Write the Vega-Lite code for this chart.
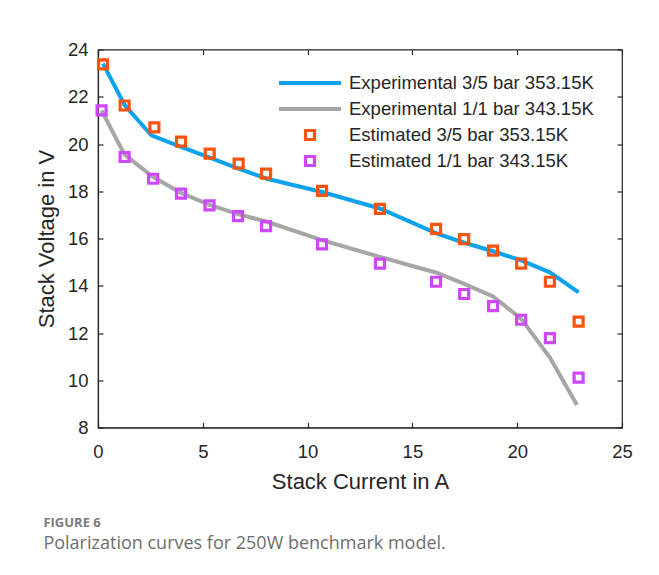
{
  "$schema": "https://vega.github.io/schema/vega-lite/v6.json",
  "width": 524,
  "height": 378,
  "autosize": {"type": "none"},
  "padding": {"left": 98, "top": 49.5, "right": 37, "bottom": 147},
  "background": "white",
  "config": {
    "view": {"stroke": "#262626", "strokeWidth": 1.2},
    "font": "Liberation Sans",
    "axis": {
      "domainColor": "#262626", "tickColor": "#262626", "labelColor": "#262626", "titleColor": "#262626",
      "grid": false, "labelFont": "Liberation Sans", "titleFont": "Liberation Sans",
      "labelFontSize": 18.5, "titleFontSize": 22, "titleFontWeight": "normal",
      "tickSize": -5, "tickWidth": 1.2, "domainWidth": 1.2, "labelFlush": false, "labelOverlap": false
    }
  },
  "title": {
    "text": "FIGURE 6",
    "subtitle": "Polarization curves for 250W benchmark model.",
    "orient": "bottom",
    "anchor": "start",
    "dx": 8,
    "offset": 25,
    "font": "Open Sans",
    "fontSize": 13,
    "fontWeight": "bold",
    "color": "#7a7a7a",
    "subtitleFont": "Open Sans",
    "subtitleFontSize": 18,
    "subtitleColor": "#6e6e6e",
    "subtitlePadding": 5
  },
  "datasets": {
    "lines": [
      {"series": "Experimental 3/5 bar 353.15K", "current": 0.24, "voltage": 23.4},
      {"series": "Experimental 3/5 bar 353.15K", "current": 1.27, "voltage": 21.65},
      {"series": "Experimental 3/5 bar 353.15K", "current": 2.55, "voltage": 20.37},
      {"series": "Experimental 3/5 bar 353.15K", "current": 3.96, "voltage": 19.88},
      {"series": "Experimental 3/5 bar 353.15K", "current": 5.33, "voltage": 19.42},
      {"series": "Experimental 3/5 bar 353.15K", "current": 6.71, "voltage": 18.96},
      {"series": "Experimental 3/5 bar 353.15K", "current": 8.02, "voltage": 18.54},
      {"series": "Experimental 3/5 bar 353.15K", "current": 10.69, "voltage": 17.97},
      {"series": "Experimental 3/5 bar 353.15K", "current": 13.45, "voltage": 17.27},
      {"series": "Experimental 3/5 bar 353.15K", "current": 16.15, "voltage": 16.22},
      {"series": "Experimental 3/5 bar 353.15K", "current": 17.47, "voltage": 15.82},
      {"series": "Experimental 3/5 bar 353.15K", "current": 18.85, "voltage": 15.46},
      {"series": "Experimental 3/5 bar 353.15K", "current": 20.19, "voltage": 15.07},
      {"series": "Experimental 3/5 bar 353.15K", "current": 21.56, "voltage": 14.57},
      {"series": "Experimental 3/5 bar 353.15K", "current": 22.93, "voltage": 13.72},
      {"series": "Experimental 1/1 bar 343.15K", "current": 0.17, "voltage": 21.42},
      {"series": "Experimental 1/1 bar 343.15K", "current": 1.27, "voltage": 19.55},
      {"series": "Experimental 1/1 bar 343.15K", "current": 2.6, "voltage": 18.62},
      {"series": "Experimental 1/1 bar 343.15K", "current": 3.96, "voltage": 17.93},
      {"series": "Experimental 1/1 bar 343.15K", "current": 5.32, "voltage": 17.42},
      {"series": "Experimental 1/1 bar 343.15K", "current": 6.68, "voltage": 17.03},
      {"series": "Experimental 1/1 bar 343.15K", "current": 8.02, "voltage": 16.72},
      {"series": "Experimental 1/1 bar 343.15K", "current": 10.69, "voltage": 15.93},
      {"series": "Experimental 1/1 bar 343.15K", "current": 13.45, "voltage": 15.22},
      {"series": "Experimental 1/1 bar 343.15K", "current": 16.15, "voltage": 14.55},
      {"series": "Experimental 1/1 bar 343.15K", "current": 17.47, "voltage": 14.08},
      {"series": "Experimental 1/1 bar 343.15K", "current": 18.85, "voltage": 13.55},
      {"series": "Experimental 1/1 bar 343.15K", "current": 20.19, "voltage": 12.6},
      {"series": "Experimental 1/1 bar 343.15K", "current": 21.56, "voltage": 10.96},
      {"series": "Experimental 1/1 bar 343.15K", "current": 22.85, "voltage": 8.95}
    ],
    "points": [
      {"series": "Estimated 3/5 bar 353.15K", "current": 0.24, "voltage": 23.37},
      {"series": "Estimated 3/5 bar 353.15K", "current": 1.27, "voltage": 21.63},
      {"series": "Estimated 3/5 bar 353.15K", "current": 2.69, "voltage": 20.7},
      {"series": "Estimated 3/5 bar 353.15K", "current": 3.96, "voltage": 20.1},
      {"series": "Estimated 3/5 bar 353.15K", "current": 5.33, "voltage": 19.59},
      {"series": "Estimated 3/5 bar 353.15K", "current": 6.71, "voltage": 19.17},
      {"series": "Estimated 3/5 bar 353.15K", "current": 8.02, "voltage": 18.75},
      {"series": "Estimated 3/5 bar 353.15K", "current": 10.69, "voltage": 18.02},
      {"series": "Estimated 3/5 bar 353.15K", "current": 13.45, "voltage": 17.25},
      {"series": "Estimated 3/5 bar 353.15K", "current": 16.13, "voltage": 16.41},
      {"series": "Estimated 3/5 bar 353.15K", "current": 17.47, "voltage": 15.97},
      {"series": "Estimated 3/5 bar 353.15K", "current": 18.85, "voltage": 15.49},
      {"series": "Estimated 3/5 bar 353.15K", "current": 20.19, "voltage": 14.94},
      {"series": "Estimated 3/5 bar 353.15K", "current": 21.56, "voltage": 14.17},
      {"series": "Estimated 3/5 bar 353.15K", "current": 22.93, "voltage": 12.48},
      {"series": "Estimated 1/1 bar 343.15K", "current": 0.17, "voltage": 21.42},
      {"series": "Estimated 1/1 bar 343.15K", "current": 1.27, "voltage": 19.45},
      {"series": "Estimated 1/1 bar 343.15K", "current": 2.63, "voltage": 18.53},
      {"series": "Estimated 1/1 bar 343.15K", "current": 3.96, "voltage": 17.9},
      {"series": "Estimated 1/1 bar 343.15K", "current": 5.32, "voltage": 17.4},
      {"series": "Estimated 1/1 bar 343.15K", "current": 6.68, "voltage": 16.95},
      {"series": "Estimated 1/1 bar 343.15K", "current": 8.02, "voltage": 16.52},
      {"series": "Estimated 1/1 bar 343.15K", "current": 10.69, "voltage": 15.75},
      {"series": "Estimated 1/1 bar 343.15K", "current": 13.45, "voltage": 14.94},
      {"series": "Estimated 1/1 bar 343.15K", "current": 16.13, "voltage": 14.17},
      {"series": "Estimated 1/1 bar 343.15K", "current": 17.47, "voltage": 13.65},
      {"series": "Estimated 1/1 bar 343.15K", "current": 18.85, "voltage": 13.14},
      {"series": "Estimated 1/1 bar 343.15K", "current": 20.19, "voltage": 12.56},
      {"series": "Estimated 1/1 bar 343.15K", "current": 21.56, "voltage": 11.78},
      {"series": "Estimated 1/1 bar 343.15K", "current": 22.93, "voltage": 10.11}
    ]
  },
  "layer": [
    {
      "data": {"name": "lines"},
      "mark": {"type": "line", "strokeWidth": 4},
      "encoding": {
        "x": {
          "field": "current", "type": "quantitative",
          "scale": {"domain": [0, 25], "nice": false, "zero": false},
          "axis": {"orient": "bottom", "values": [0, 5, 10, 15, 20, 25], "title": "Stack Current in A", "labelPadding": 20, "titlePadding": 10}
        },
        "y": {
          "field": "voltage", "type": "quantitative",
          "scale": {"domain": [8, 24], "nice": false, "zero": false},
          "axis": {"orient": "left", "values": [8, 10, 12, 14, 16, 18, 20, 22, 24], "title": "Stack Voltage in V", "labelPadding": 15, "titlePadding": 9}
        },
        "color": {
          "field": "series", "type": "nominal",
          "scale": {
            "domain": ["Experimental 3/5 bar 353.15K", "Experimental 1/1 bar 343.15K", "Estimated 3/5 bar 353.15K", "Estimated 1/1 bar 343.15K"],
            "range": ["#0AA2EE", "#A6A6A6", "#F7540F", "#CF47FB"]
          },
          "legend": {
            "orient": "none", "legendX": 179, "legendY": 20.5, "title": null,
            "labelFont": "Liberation Sans", "labelFontSize": 18.5, "labelColor": "#262626",
            "clipHeight": 26, "rowPadding": 0, "labelOffset": 6, "padding": 0,
            "symbolOpacity": 1, "labelLimit": 400
          }
        }
      }
    },
    {
      "data": {"name": "points"},
      "mark": {"type": "point", "filled": false, "opacity": 1},
      "encoding": {
        "x": {
          "field": "current", "type": "quantitative",
          "axis": {"orient": "top", "values": [0, 5, 10, 15, 20, 25], "title": null, "labels": false, "domain": false}
        },
        "y": {
          "field": "voltage", "type": "quantitative",
          "axis": {"orient": "right", "values": [8, 10, 12, 14, 16, 18, 20, 22, 24], "title": null, "labels": false, "domain": false}
        },
        "color": {"field": "series", "type": "nominal"},
        "shape": {
          "field": "series", "type": "nominal",
          "scale": {
            "domain": ["Experimental 3/5 bar 353.15K", "Experimental 1/1 bar 343.15K", "Estimated 3/5 bar 353.15K", "Estimated 1/1 bar 343.15K"],
            "range": ["stroke", "stroke", "square", "square"]
          }
        },
        "size": {
          "field": "series", "type": "nominal",
          "scale": {
            "type": "ordinal",
            "domain": ["Experimental 3/5 bar 353.15K", "Experimental 1/1 bar 343.15K", "Estimated 3/5 bar 353.15K", "Estimated 1/1 bar 343.15K"],
            "range": [3844, 3844, 81, 81]
          }
        },
        "strokeWidth": {
          "field": "series", "type": "nominal",
          "scale": {
            "type": "ordinal",
            "domain": ["Experimental 3/5 bar 353.15K", "Experimental 1/1 bar 343.15K", "Estimated 3/5 bar 353.15K", "Estimated 1/1 bar 343.15K"],
            "range": [4, 4, 3.2, 3.2]
          }
        }
      }
    }
  ],
  "resolve": {"axis": {"x": "independent", "y": "independent"}}
}
